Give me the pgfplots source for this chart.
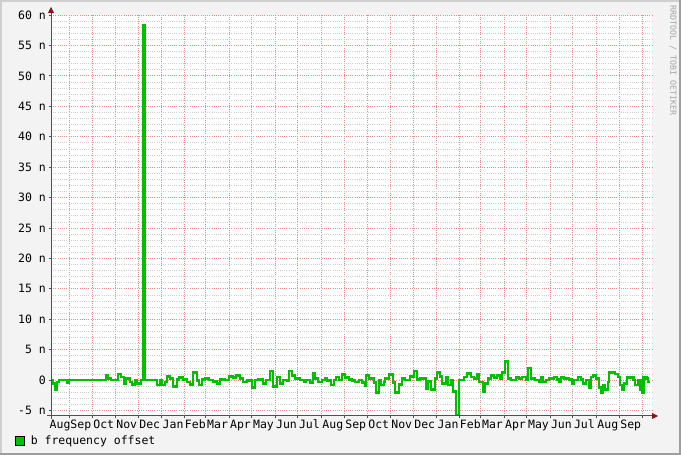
\documentclass[border=0pt]{standalone}
\usepackage{fontspec}
\setmainfont{DejaVu Sans Mono}
\setmonofont{DejaVu Sans Mono}
\usepackage{pgfplots}
\pgfplotsset{compat=1.18}
\definecolor{rrdback}{HTML}{F3F3F3}
\definecolor{shadea}{HTML}{CFCFCF}
\definecolor{shadeb}{HTML}{9E9E9E}
\definecolor{mgrid}{RGB}{228,140,140}
\definecolor{mingrid}{RGB}{205,205,205}
\definecolor{axisgray}{RGB}{80,80,80}
\definecolor{arrowred}{RGB}{140,20,20}
\definecolor{linegreen}{RGB}{0,192,0}
\definecolor{markgray}{RGB}{165,165,165}

\pgfplotstableread{
d v
-24.6 0
-21.9 -0.5
-19.2 -1.5
-16.6 -0.3
-13.9 0
-3.3 -0.4
-0.7 0
48.4 0.7
51.1 0.2
55.1 0
64.4 1.0
68.4 0.5
72.3 -0.5
75.0 0.3
80.3 -0.3
82.9 -0.7
86.9 0
89.6 -0.6
94.9 0
97.6 58.3
100.2 0
116.1 -0.8
120.1 0
122.8 -0.8
126.8 -0.3
129.4 0.6
133.4 0.3
137.4 -1.1
142.7 0.1
145.3 0.4
150.6 0.1
156.0 -0.3
159.9 -0.7
163.9 1.3
169.2 -0.1
171.9 -0.8
175.9 0.1
179.9 0.2
185.2 0
190.5 -0.2
195.8 -0.5
199.8 0.1
206.4 0
211.7 0.6
217.0 0.4
221.0 0.7
226.3 0.3
230.3 -0.3
235.6 -0.1
242.2 -1.2
246.2 0
250.2 0.1
256.8 -0.5
260.8 0
266.1 1.5
270.1 -1.1
275.4 0.5
279.4 -0.6
283.4 0
288.7 -0.1
291.3 1.5
295.3 0.8
299.3 0.2
305.9 0
311.3 -0.3
313.9 0
319.2 -0.4
323.2 1.1
325.9 0.2
329.8 -0.3
335.1 0
339.1 0.3
341.8 -0.1
347.1 -0.8
351.1 0
353.7 0.5
357.7 0
361.7 0.9
365.7 0.4
371.0 0.1
375.0 -0.1
378.9 -0.3
384.3 0
388.2 -0.4
392.2 -0.9
393.5 0.8
397.5 0.2
404.2 -0.4
406.8 -2.1
410.8 0
413.5 -0.8
417.4 -0.3
418.8 0.3
424.1 0.9
429.4 -0.4
432.1 -2.0
437.4 -0.7
441.3 0.2
445.3 0
452.0 0.6
457.3 1.5
461.2 0.1
465.2 0.2
473.2 -1.4
475.8 -0.2
479.8 -1.5
485.1 0.2
487.8 1.2
491.8 0.6
494.4 -0.5
499.7 0.5
502.4 -0.8
506.4 0
509.0 -1.9
513.0 -5.8
517.0 0
523.6 0.5
527.6 1.1
532.9 0.5
536.9 0.3
540.9 0.9
543.6 -0.3
548.9 -1.9
551.5 -0.5
555.5 0.3
559.5 0.8
563.5 0.4
567.5 0.7
571.4 0.3
574.1 1.2
578.1 3.0
582.1 0.3
586.1 0
592.7 0.4
596.7 0.2
600.6 0.5
605.9 0.1
608.6 2.0
612.6 0.3
617.9 0
623.2 -0.3
625.9 0.4
628.5 -0.3
632.5 0
636.5 0.3
643.1 0.5
647.1 0.1
649.8 -0.3
652.4 0.4
656.4 0.3
663.0 0.1
667.0 -0.6
669.7 0
675.0 0.5
679.0 0.1
681.6 -0.5
685.6 0
689.6 -1.3
692.3 0.5
694.9 0.8
698.9 0.3
702.9 -1.2
705.6 -2.1
708.2 -0.8
710.9 -1.5
714.8 -0.3
716.2 1.3
720.2 1.3
724.1 1.0
728.1 0.5
730.8 -0.8
733.5 -1.6
736.1 -0.5
740.1 0.4
748.1 0
750.7 -0.8
754.7 -0.1
757.4 -1.5
760.0 -2.1
761.4 0.4
765.4 0.3
768.0 -0.3
770.7 -0.3
}\freqdata

\pgfplotsset{rrdgeom/.style={
  at={(51pt,39pt)}, anchor=south west, scale only axis,
  width=601pt, height=401pt,
  xmin=-24.56, xmax=773.2, ymin=-5.9, ymax=60,
  tick label style={font=\fontsize{11.5}{13}\selectfont, inner sep=0pt}}}

\begin{document}
\begin{tikzpicture}
\useasboundingbox (0pt,0pt) rectangle (681pt,455pt);
\fill[rrdback] (0pt,0pt) rectangle (681pt,455pt);
\fill[shadea] (0pt,453pt) rectangle (681pt,455pt);
\fill[shadea] (0pt,0pt) rectangle (2pt,455pt);
\fill[shadeb] (679pt,0pt) rectangle (681pt,455pt);
\fill[shadeb] (0pt,0pt) rectangle (681pt,2pt);
\node[rotate=-90, anchor=west, text=markgray, inner sep=0pt,
      font=\fontsize{8.3}{9}\selectfont] at (673pt,450pt) {RRDTOOL / TOBI OETIKER};
% month names only, centred in each month
\begin{axis}[rrdgeom,
  axis line style={draw=none}, major tick length=0pt, minor tick length=0pt,
  ytick=\empty,
  xtick={-12.5,15,45.5,76,106.5,137.5,167,196.5,227,257.5,288,318.5,349.5,380,410.5,441,471.5,502.5,532,561.5,592,622.5,653,683.5,714.5,745},
  xticklabels={Aug,Sep,Oct,Nov,Dec,Jan,Feb,Mar,Apr,May,Jun,Jul,Aug,Sep,Oct,Nov,Dec,Jan,Feb,Mar,Apr,May,Jun,Jul,Aug,Sep},
  xticklabel style={anchor=north, yshift=-4pt},
]
\end{axis}
% canvas, grid, data and legend
\begin{axis}[rrdgeom,
  clip mode=individual,
  axis background/.style={fill=white},
  axis line style={draw=none},
  major tick length=0pt, minor tick length=0pt,
  xtick={0,30,61,91,122,153,181,212,242,273,303,334,365,395,426,456,487,518,546,577,607,638,668,699,730,760},
  xticklabels={},
  ytick={-5,0,5,10,15,20,25,30,35,40,45,50,55,60},
  yticklabels={-5 n,0,5 n,10 n,15 n,20 n,25 n,30 n,35 n,40 n,45 n,50 n,55 n,60 n},
  minor ytick={-4,-3,-2,-1,1,2,3,4,6,7,8,9,11,12,13,14,16,17,18,19,21,22,23,24,26,27,28,29,31,32,33,34,36,37,38,39,41,42,43,44,46,47,48,49,51,52,53,54,56,57,58,59},
  xmajorgrids, ymajorgrids, yminorgrids,
  every major grid/.style={draw=mgrid, line width=0.8pt, dash pattern=on 1pt off 1.2pt},
  every minor grid/.style={draw=mingrid, line width=0.7pt, dash pattern=on 1pt off 1.2pt},
  yticklabel style={anchor=east, xshift=-5pt},
  legend style={at={(axis description cs:-0.0599,-0.0623)}, anchor=west,
    draw=none, fill=none, inner sep=0pt, outer sep=0pt,
    font=\fontsize{11.5}{13}\selectfont,
    nodes={inner sep=0pt},
    /tikz/every odd column/.append style={column sep=6pt}},
]
\addplot[const plot, linegreen, line width=2.8pt,
  legend image code/.code={\draw[fill=linegreen, draw=black, line width=0.8pt] (0pt,-4.5pt) rectangle (9pt,4.5pt);}]
  table[x=d, y=v] {\freqdata};
\addlegendentry{b frequency offset}
\end{axis}
% axis lines, small ticks and arrows
\begin{axis}[rrdgeom,
  clip mode=individual,
  axis line style={draw=none},
  tick pos=left, tick align=outside,
  major tick length=2.5pt,
  tick style={draw=axisgray, line width=0.8pt},
  xtick={0,30,61,91,122,153,181,212,242,273,303,334,365,395,426,456,487,518,546,577,607,638,668,699,730,760},
  xticklabels={},
  ytick={-5,0,5,10,15,20,25,30,35,40,45,50,55,60},
  yticklabels={},
]
\draw[axisgray, line width=1pt] ([xshift=-4pt]rel axis cs:0,0) -- ([xshift=1pt]rel axis cs:1,0);
\draw[axisgray, line width=1pt] ([yshift=-3pt]rel axis cs:0,0) -- ([yshift=2pt]rel axis cs:0,1);
\fill[arrowred] ([yshift=3pt]rel axis cs:1,0) -- ([xshift=6pt]rel axis cs:1,0) -- ([yshift=-3pt]rel axis cs:1,0) -- cycle;
\fill[arrowred] ([xshift=-3pt,yshift=2pt]rel axis cs:0,1) -- ([yshift=8pt]rel axis cs:0,1) -- ([xshift=3pt,yshift=2pt]rel axis cs:0,1) -- cycle;
\end{axis}
\end{tikzpicture}
\end{document}
